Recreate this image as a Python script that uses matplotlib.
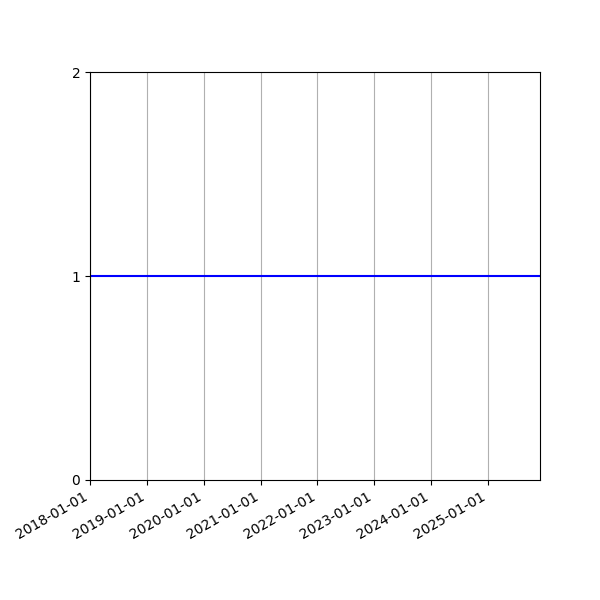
import matplotlib
matplotlib.use('Agg')
import matplotlib.pyplot as plt
import matplotlib.dates as mdates
import numpy as np
import pandas as pd

#Data: monthly dates with a constant value of 1
dates = pd.date_range('2018-01-01', '2025-12-01', freq='MS')
values = [1.0]*len(dates)

fig, ax = plt.subplots(figsize=(6, 6), dpi=100)
ax.plot(dates, values, color='b')
ax.set_xlim(dates[0], dates[-1])
ax.set_ylim(0, 2)
ax.set_yticks([0, 1, 2])
ax.xaxis.set_major_locator(mdates.YearLocator())
ax.xaxis.set_major_formatter(mdates.DateFormatter('%Y-%m-%d'))
ax.grid(axis='x')
fig.autofmt_xdate()
fig.subplots_adjust(left=0.15, right=0.9, top=0.88, bottom=0.2)
fig.savefig('out.png')
